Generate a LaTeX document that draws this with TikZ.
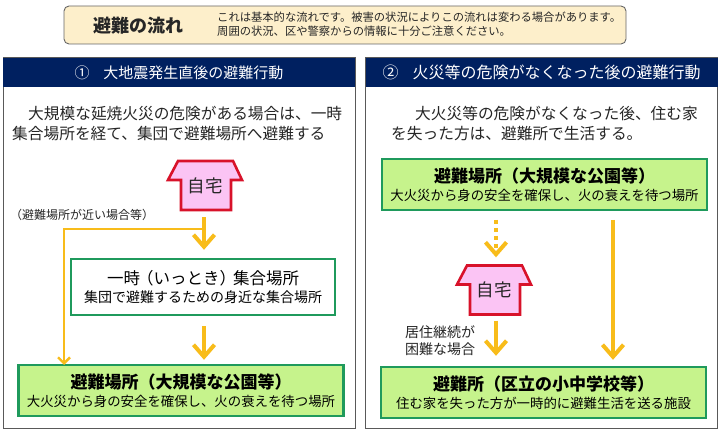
\documentclass[tikz,border=0pt]{standalone}
\usepackage{fontspec}
\setmainfont{Noto Sans CJK JP}
\usetikzlibrary{arrows.meta, positioning, calc}
\definecolor{myNavy}{HTML}{002060}
\definecolor{myCream}{HTML}{FDEFCB}
\definecolor{myGreen}{HTML}{1F9A5C}
\definecolor{myLime}{HTML}{C6F38C}
\definecolor{myAmber}{HTML}{F8BC1A}
\definecolor{myRed}{HTML}{D8122A}
\definecolor{myPink}{HTML}{FBC4F4}
\definecolor{myInk}{HTML}{262626}
\newcommand{\fsize}[1]{\fontsize{#1}{#1}\selectfont}
\newcommand{\homeshape}[2]{
\draw[homeline, shift={(#1)}] (-27,-24.5) -- (28,-24.5) -- (37,-5.5) -- (26,-5.5) -- (26,24.5) -- (-24,24.5) -- (-24,-5.5) -- (-37,-5.5) -- cycle;
\node[hometext] (#2) at (#1) {自宅};
}

\begin{document}
\begin{tikzpicture}[
x=1pt, y=-1pt,
banner/.style={draw=gray!80!black, fill=myCream, rounded corners=5pt, line width=0.9pt, minimum width=562pt, minimum height=38pt, inner sep=0pt},
panel/.style={draw=gray!70!black, fill=white, line width=1pt, minimum width=352pt, minimum height=370pt, inner sep=0pt},
header/.style={fill=myNavy, text=white, minimum width=352pt, minimum height=29pt, inner sep=0pt, font=\fsize{15}},
lead/.style={text=myInk, align=left, inner sep=0pt, font=\fsize{15.7}},
note/.style={text=myInk, align=left, inner sep=0pt},
place/.style={draw=myGreen, fill=myLime, line width=2.4pt, align=center, minimum width=325pt, minimum height=51pt, inner sep=0pt, text=black},
assembly/.style={place, fill=white, minimum width=264pt, minimum height=56pt},
homeline/.style={draw=myRed, fill=myPink, line width=2.6pt, line join=miter},
hometext/.style={minimum width=74pt, minimum height=49pt, inner sep=0pt, text=myInk, font=\fsize{17.5}},
flow/.style={draw=myAmber, line width=4pt, -{Straight Barb[length=12pt, width=21pt, line width=4pt]}},
thinflow/.style={draw=myAmber, line width=2.4pt, -{Straight Barb[length=6pt, width=12pt, line width=2.4pt]}}
]
\useasboundingbox (0,0) rectangle (720,435);

% banner
\node[banner] (flowbanner) at (345,25) {};
\node[inner sep=0pt, font=\fsize{18}\bfseries, text=myInk] (flowtitle) at (138,26) {避難の流れ};
\node[note, anchor=west, font=\fsize{11.3}, align=left] (flownote) at (217,24.5) {これは基本的な流れです。被害の状況によりこの流れは変わる場合があります。\\[2.6pt]周囲の状況、区や警察からの情報に十分ご注意ください。};

% panels
\node[panel] (panelA) at (179,243) {};
\node[panel] (panelB) at (541.5,243) {};
\node[header] (headA) at (179,72.5) {①\hspace{14pt}大地震発生直後の避難行動};
\node[header, font=\fsize{16}] (headB) at (541.5,72.5) {②\hspace{14pt}火災等の危険がなくなった後の避難行動};

\node[lead, anchor=west] (leadA) at (12,124) {\hspace{16pt}大規模な延焼火災の危険がある場合は、一時\\[4.3pt]集合場所を経て、集団で避難場所へ避難する};
\node[lead, anchor=west] (leadB) at (391,123.5) {\hspace{24pt}大火災等の危険がなくなった後、住む家\\[4.3pt]を失った方は、避難所で生活する。};

% left flow
\homeshape{205,185.5}{homeA}
\node[note, anchor=west, font=\fsize{12}] (nearnote) at (10,215) {（避難場所が近い場合等）};
\node[assembly] (gather) at (203,287) {{\fsize{16.5}一時\hspace{-3pt}（いっとき）\hspace{-3pt}集合場所}\\[4pt]{\fsize{14}集団で避難するための身近な集合場所}};
\node[place] (parkA) at (181,390.5) {{\fsize{17}\bfseries 避難場所（大規模な公園等）}\\[4pt]{\fsize{13.4}大火災から身の安全を確保し、火の衰えを待つ場所}};

\coordinate (branchA) at (204,229);
\coordinate (sideA) at (64,365);
\draw[thinflow] (branchA) -| (sideA);
\draw[flow, shorten <=7pt, shorten >=8pt] (homeA.south -| branchA) -- (gather.north -| branchA);
\draw[flow, shorten <=10pt, shorten >=4pt] (gather.south -| branchA) -- (parkA.north -| branchA);

% right flow
\homeshape{494,290}{homeB}
\node[place] (parkB) at (544.5,184.5) {{\fsize{17}\bfseries 避難場所（大規模な公園等）}\\[4pt]{\fsize{13.4}大火災から身の安全を確保し、火の衰えを待つ場所}};
\node[place] (shelter) at (543.5,392.5) {{\fsize{17}\bfseries 避難所（区立の小中学校等）}\\[4pt]{\fsize{13.4}住む家を失った方が一時的に避難生活を送る施設}};
\node[note, anchor=west, font=\fsize{14}] (hardnote) at (405,340.5) {居住継続が\\[3pt]困難な場合};

\coordinate (dropB) at (496,210);
\coordinate (longB) at (613,210);
\draw[flow, dash pattern=on 4pt off 4pt, shorten <=10pt, shorten >=8pt] (dropB) -- (homeB.north -| dropB);
\draw[flow, shorten <=6pt, shorten >=10pt] (homeB.south -| dropB) -- (shelter.north -| dropB);
\draw[flow, shorten <=10pt, shorten >=6pt] (longB) -- (shelter.north -| longB);

\end{tikzpicture}
\end{document}
